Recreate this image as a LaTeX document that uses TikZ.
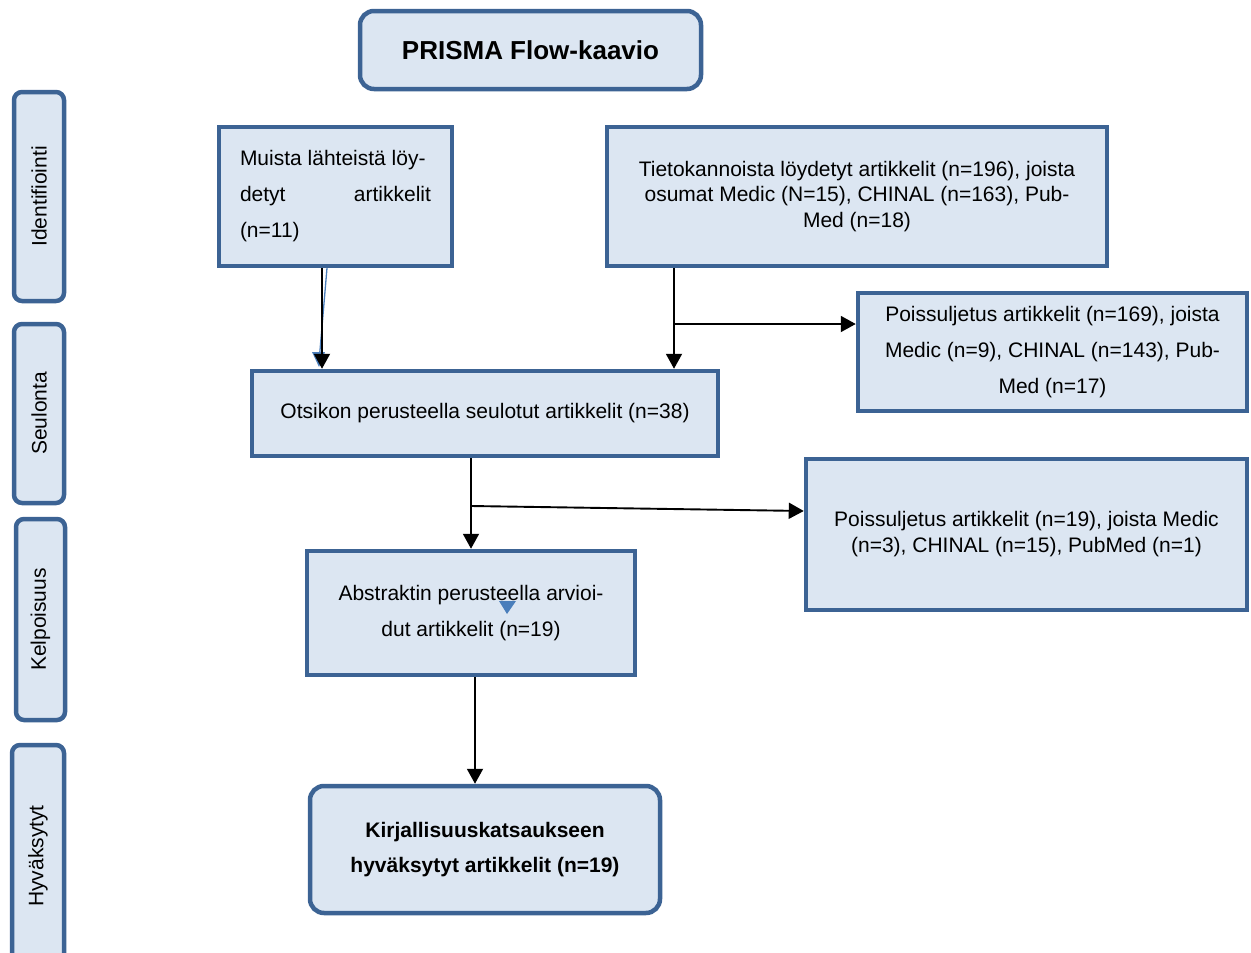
\documentclass[tikz,border=0pt]{standalone}
\usepackage{fontspec}
\setmainfont{Liberation Sans}
\usetikzlibrary{arrows.meta,calc}
\definecolor{boxfill}{HTML}{DCE6F2}
\definecolor{boxline}{HTML}{3C6394}
\definecolor{strayblue}{HTML}{4A7EBB}
\begin{document}
\begin{tikzpicture}[x=1pt,y=-1pt,
  box/.style={draw=boxline,fill=boxfill,line width=4.5pt,inner sep=0pt,
    font=\fontsize{21}{36}\selectfont,align=center},
  rbox/.style={box,rounded corners=14pt},
  side/.style={box,rounded corners=8pt,rotate=90},
  arr/.style={-{Triangle[width=16pt,length=15pt]},line width=1.9pt,black}]
\useasboundingbox (0,0) rectangle (1251,953);
\clip (0,0) rectangle (1251,953);

% title
\node[rbox,minimum width=341pt,minimum height=78pt,font=\bfseries\fontsize{26}{30}\selectfont]
  (title) at (530.5,50) {PRISMA Flow-kaavio};

% side labels
\node[side,minimum width=209pt,minimum height=50pt] (s1) at (39,196.5) {Identifiointi};
\node[side,minimum width=179pt,minimum height=50pt] (s2) at (39,413.5) {Seulonta};
\node[side,minimum width=201pt,minimum height=49pt] (s3) at (40.5,619.5) {Kelpoisuus};
\node[side,minimum width=222pt,minimum height=52pt] (s4) at (38,856) {Hyväksytyt};

% boxes
\node[box,minimum width=233pt,minimum height=139pt,align=left] (b1) at (335.5,196.5)
  {Muista lähteistä löy-\\\makebox[191pt][s]{detyt artikkelit}\\(n=11)};
\node[box,minimum width=500pt,minimum height=139pt,font=\fontsize{21}{25.5}\selectfont] (b2) at (857,196.5)
  {Tietokannoista löydetyt artikkelit (n=196), joista\\osumat Medic (N=15), CHINAL (n=163), Pub-\\Med (n=18)};
\node[box,minimum width=389pt,minimum height=118pt] (b3) at (1052.5,352)
  {Poissuljetus artikkelit (n=169), joista\\Medic (n=9), CHINAL (n=143), Pub-\\Med (n=17)};
\node[box,minimum width=466pt,minimum height=85pt] (b4) at (485,413.5)
  {Otsikon perusteella seulotut artikkelit (n=38)};
\node[box,minimum width=441pt,minimum height=151pt,font=\fontsize{21}{26}\selectfont] (b5) at (1026.5,534.5)
  {Poissuljetus artikkelit (n=19), joista Medic\\(n=3), CHINAL (n=15), PubMed (n=1)};
\node[box,minimum width=328pt,minimum height=124pt] (b6) at (471,613)
  {Abstraktin perusteella arvioi-\\dut artikkelit (n=19)};
\node[rbox,minimum width=350pt,minimum height=127pt,font=\bfseries\fontsize{21}{35}\selectfont] (b7) at (485,849.5)
  {Kirjallisuuskatsaukseen\\hyväksytyt artikkelit (n=19)};

% stray blue marks
\coordinate (u1) at (327,268);
\coordinate (u2) at (319,362);
\draw[strayblue,line width=1.3pt] (u1) -- (u2);
\fill[strayblue] (312,352) -- (325,352) -- (319,367) -- cycle;
\fill[strayblue] (499,601) -- (516,601) -- (507,614) -- cycle;

% connectors
\coordinate (a1) at (322,0);
\draw[arr] (b1.south -| a1) -- (b4.north -| a1);
\coordinate (j1) at (674,324);
\draw[arr] (b2.south -| j1) -- (b4.north -| j1);
\draw[arr] (j1) -- (b3.west |- j1);
\coordinate (j2) at (471,506);
\coordinate (e2) at (0,511);
\draw[arr] (b4.south -| j2) -- (b6.north -| j2);
\draw[arr] (j2) -- (b5.west |- e2);
\coordinate (a4) at (475,0);
\draw[arr] (b6.south -| a4) -- (b7.north -| a4);
\end{tikzpicture}
\end{document}
